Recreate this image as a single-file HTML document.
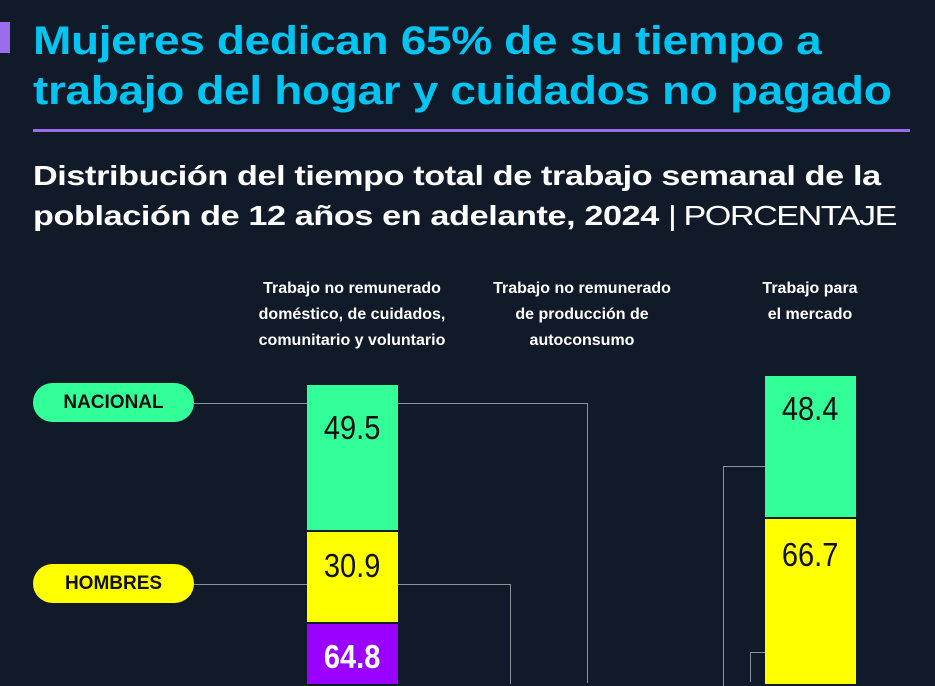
<!DOCTYPE html>
<html><head><meta charset="utf-8"><style>
body{margin:0;width:935px;height:677px;background:#111a28;overflow:hidden;position:relative;font-family:"Liberation Sans",sans-serif}
.a{position:absolute}
.t{left:33px;top:16px;color:#00c4f2;font-weight:bold;font-size:40px;line-height:50px;letter-spacing:-0.3px;transform:scaleX(1.15);transform-origin:left top;white-space:nowrap}
.s{left:33px;top:156px;color:#fff;font-weight:bold;font-size:28px;line-height:40px;letter-spacing:-0.3px;transform:scaleX(1.22);transform-origin:left top;white-space:nowrap}
.h{color:#fff;font-weight:bold;font-size:16px;line-height:26px;text-align:center}
.pill{left:33px;width:161px;height:39px;border-radius:20px;font-weight:bold;font-size:19px;line-height:39px;text-align:center;color:#111}
.n{font-size:33px;text-align:center;line-height:36px;color:#111}
.n span{display:inline-block;transform:scaleX(0.88)}
.l{background:#8a929c}
</style></head><body>
<div class="a" style="left:0;top:22px;width:10px;height:31px;background:#9b6cf0"></div>
<div class="a t">Mujeres dedican 65% de su tiempo a<br>trabajo del hogar y cuidados no pagado</div>
<div class="a" style="left:33px;top:129px;width:877px;height:3px;background:#9b6cf0"></div>
<div class="a s">Distribución del tiempo total de trabajo semanal de la<br>población de 12 años en adelante, 2024 <span style="font-weight:normal;letter-spacing:-1.2px">| PORCENTAJE</span></div>
<div class="a h" style="left:232px;top:276px;width:240px">Trabajo no remunerado<br>doméstico, de cuidados,<br>comunitario y voluntario</div>
<div class="a h" style="left:462px;top:276px;width:240px">Trabajo no remunerado<br>de producción de<br>autoconsumo</div>
<div class="a h" style="left:690px;top:276px;width:240px">Trabajo para<br>el mercado</div>
<div class="a l" style="left:194px;top:403px;width:113px;height:1px"></div>
<div class="a l" style="left:398px;top:403px;width:190px;height:1px"></div>
<div class="a l" style="left:587px;top:403px;width:1px;height:280px"></div>
<div class="a l" style="left:194px;top:584px;width:113px;height:1px"></div>
<div class="a l" style="left:398px;top:584px;width:113px;height:1px"></div>
<div class="a l" style="left:510px;top:584px;width:1px;height:100px"></div>
<div class="a l" style="left:723px;top:466px;width:42px;height:1px"></div>
<div class="a l" style="left:723px;top:466px;width:1px;height:220px"></div>
<div class="a l" style="left:750px;top:652px;width:15px;height:1px"></div>
<div class="a l" style="left:750px;top:652px;width:1px;height:30px"></div>
<div class="a pill" style="top:383px;background:#33ff99">NACIONAL</div>
<div class="a pill" style="top:564px;background:#ffff00">HOMBRES</div>
<div class="a n" style="left:307px;top:385px;width:91px;height:145px;background:#33ff99;padding-top:25px;box-sizing:border-box"><span>49.5</span></div>
<div class="a n" style="left:307px;top:532px;width:91px;height:90px;background:#ffff00;padding-top:16px;box-sizing:border-box"><span>30.9</span></div>
<div class="a n" style="left:307px;top:624px;width:91px;height:60px;background:#9900ff;color:#fff;font-weight:bold;padding-top:15px;box-sizing:border-box"><span>64.8</span></div>
<div class="a n" style="left:765px;top:376px;width:91px;height:141px;background:#33ff99;padding-top:15px;box-sizing:border-box"><span>48.4</span></div>
<div class="a n" style="left:765px;top:519px;width:91px;height:165px;background:#ffff00;padding-top:18px;box-sizing:border-box"><span>66.7</span></div>
</body></html>
